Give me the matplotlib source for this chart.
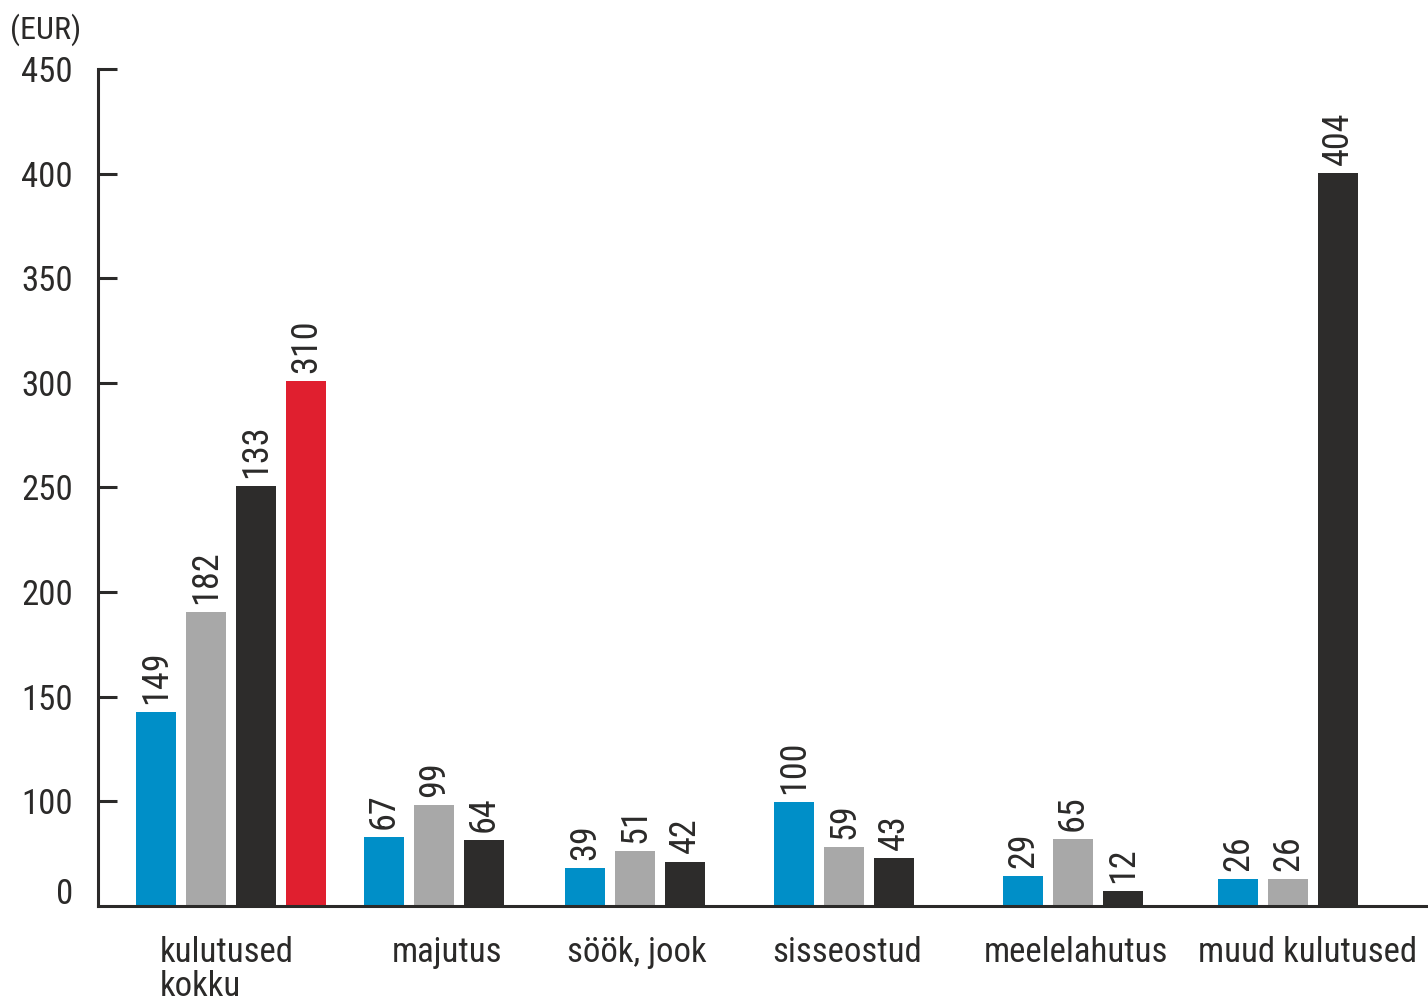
import matplotlib
matplotlib.use("Agg")
import matplotlib.pyplot as plt
from matplotlib import font_manager

# font: narrow sans if we have one
names = {f.name for f in font_manager.fontManager.ttflist}
family = [n for n in ["Liberation Sans Narrow", "Roboto Condensed", "DejaVu Sans"] if n in names]
plt.rcParams["font.family"] = family

# data
categories = ["kulutused\nkokku", "majutus", "söök, jook", "sisseostud", "meelelahutus", "muud kulutused"]
# printed value labels
labels_blue = [149, 67, 39, 100, 29, 26]
labels_gray = [182, 99, 51, 59, 65, 26]
labels_black = [133, 64, 42, 43, 12, 404]
labels_red = [310]
# bar heights as drawn (axis units)
heights_blue = [142.7, 83.0, 68.2, 99.7, 64.3, 62.9]
heights_gray = [190.5, 98.3, 76.3, 78.2, 82.0, 62.9]
heights_black = [250.7, 81.5, 71.2, 72.9, 57.2, 400.3]
heights_red = [300.9]
y_ticks = [100, 150, 200, 250, 300, 350, 400, 450]

ink = "#2b2a29"
colors = ["#008fc8", "#a8a8a8", "#2d2c2b", "#e01f2f"]

fig = plt.figure(figsize=(14.28, 10.01), dpi=100)
ax = fig.add_axes([98 / 1428, 95 / 1001, 1330 / 1428, 837 / 1001])
ax.set_xlim(98, 1428)
ax.set_ylim(50, 450)

# layout in pixel-like x units
group_start = [156, 384, 585, 794, 1023, 1238]
step = 50
bar_w = 40
label_x = [160, 447, 637, 847, 1076, 1308]

series = [(heights_blue, labels_blue), (heights_gray, labels_gray),
          (heights_black, labels_black), (heights_red, labels_red)]
for s, (hs, ls) in enumerate(series):
    xs = [group_start[g] + s * step for g in range(len(hs))]
    ax.bar(xs, [h - 50 for h in hs], bottom=50, width=bar_w, color=colors[s], linewidth=0)
    for x, h, l in zip(xs, hs, ls):
        ax.annotate(str(l), (x, h), xytext=(0, 6), textcoords="offset points",
                    rotation=90, ha="center", va="bottom", fontsize=26, color=ink)

# category labels
trans = ax.get_xaxis_transform()
for i, (x, c) in enumerate(zip(label_x, categories)):
    ax.text(x, -30 / 837, c, transform=trans, ha="left" if i == 0 else "center",
            va="top", fontsize=25, color=ink, linespacing=1.05)

# axes styling
for sp in ["top", "right"]:
    ax.spines[sp].set_visible(False)
for sp in ["left", "bottom"]:
    ax.spines[sp].set_linewidth(2.2)
    ax.spines[sp].set_color(ink)
ax.set_xticks([])
ax.set_yticks(y_ticks)
ax.set_yticklabels([str(t) for t in y_ticks])
ax.tick_params(axis="y", direction="in", length=13.5, width=2.2, color=ink,
               pad=18, labelsize=25, labelcolor=ink)
ax.text(-25 / 1330, 55.3, "0", transform=ax.get_yaxis_transform(), ha="right",
        va="center", fontsize=25, color=ink)
fig.text(10 / 1428, 1 - 30 / 1001, "(EUR)", ha="left", va="center", fontsize=23, color=ink)

fig.savefig("out.png", dpi=100)
